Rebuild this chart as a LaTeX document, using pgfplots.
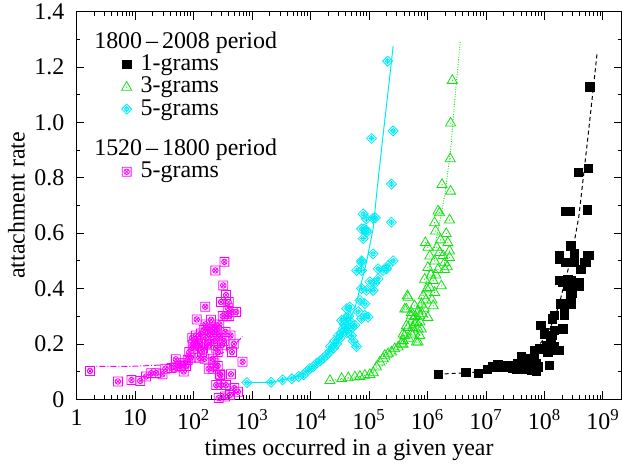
\documentclass[border=0pt]{standalone}
\usepackage{pgfplots}
\pgfplotsset{compat=1.18}
\usepackage{fontspec}
\setmainfont{Liberation Serif}
\definecolor{cmag}{RGB}{255,0,255}
\definecolor{ccyan}{RGB}{0,235,245}
\definecolor{cgreen}{RGB}{20,225,20}
\pgfdeclareplotmark{sqox}{%
 \pgfpathrectangle{\pgfpoint{-\pgfplotmarksize}{-\pgfplotmarksize}}{\pgfpoint{2\pgfplotmarksize}{2\pgfplotmarksize}}%
 \pgfpathcircle{\pgfpointorigin}{0.62\pgfplotmarksize}%
 \pgfpathmoveto{\pgfpoint{-0.44\pgfplotmarksize}{-0.44\pgfplotmarksize}}\pgfpathlineto{\pgfpoint{0.44\pgfplotmarksize}{0.44\pgfplotmarksize}}%
 \pgfpathmoveto{\pgfpoint{-0.44\pgfplotmarksize}{0.44\pgfplotmarksize}}\pgfpathlineto{\pgfpoint{0.44\pgfplotmarksize}{-0.44\pgfplotmarksize}}%
 \pgfusepathqstroke}
\pgfdeclareplotmark{diaplus}{%
 \pgfpathmoveto{\pgfpoint{0pt}{1.25\pgfplotmarksize}}\pgfpathlineto{\pgfpoint{1.25\pgfplotmarksize}{0pt}}%
 \pgfpathlineto{\pgfpoint{0pt}{-1.25\pgfplotmarksize}}\pgfpathlineto{\pgfpoint{-1.25\pgfplotmarksize}{0pt}}\pgfpathclose
 \pgfpathcircle{\pgfpointorigin}{0.5\pgfplotmarksize}%
 \pgfpathmoveto{\pgfpoint{-0.75\pgfplotmarksize}{0pt}}\pgfpathlineto{\pgfpoint{0.75\pgfplotmarksize}{0pt}}%
 \pgfpathmoveto{\pgfpoint{0pt}{-0.75\pgfplotmarksize}}\pgfpathlineto{\pgfpoint{0pt}{0.75\pgfplotmarksize}}%
 \pgfusepathqstroke}
\pgfdeclareplotmark{tridot}{%
 \pgfpathmoveto{\pgfpoint{0pt}{1.15\pgfplotmarksize}}\pgfpathlineto{\pgfpoint{1.1\pgfplotmarksize}{-0.75\pgfplotmarksize}}%
 \pgfpathlineto{\pgfpoint{-1.1\pgfplotmarksize}{-0.75\pgfplotmarksize}}\pgfpathclose\pgfusepathqstroke
 \pgfpathcircle{\pgfpoint{0pt}{-0.1\pgfplotmarksize}}{0.14\pgfplotmarksize}\pgfusepathqfill}
\begin{document}
\fontsize{24}{28}\selectfont
\begin{tikzpicture}
\begin{axis}[
 scale only axis, width=547pt, height=389pt,
 xmode=log, xmin=1, xmax=2.1e9, ymin=0, ymax=1.4,
 xtick={1,10,100,1000,10000,100000,1000000,10000000,100000000,1000000000},
 xticklabels={1,10,10\textsuperscript{2},10\textsuperscript{3},10\textsuperscript{4},10\textsuperscript{5},10\textsuperscript{6},10\textsuperscript{7},10\textsuperscript{8},10\textsuperscript{9}},
 ytick={0,0.2,0.4,0.6,0.8,1.0,1.2,1.4},
 yticklabels={0,0.2,0.4,0.6,0.8,1.0,1.2,1.4},
 minor ytick={0.1,0.3,0.5,0.7,0.9,1.1,1.3},
 major tick length=8pt, minor tick length=4pt,
 tick style={black, line width=0.6pt},
 axis line style={line width=0.8pt},
 yticklabel style={inner sep=3.5pt, xshift=-8.5pt},
 xticklabel style={inner sep=2pt, yshift=-8pt},
 xlabel={times occurred in a given year}, ylabel={attachment rate},
 xlabel style={yshift=1pt},
 ylabel style={yshift=-2pt},
 legend style={draw=none, fill=none, at={(0.076,0.949)}, anchor=north west, inner sep=0pt, row sep=3pt, nodes={inner sep=0pt}},
 legend cell align=left,
]
\addlegendimage{empty legend}\addlegendentry{\makebox[0pt][l]{\hspace*{-38pt}1800\,–\,2008 period}}
% 1-grams
\addplot[only marks, mark=square*, mark size=4.2pt, draw=black, fill=black] coordinates {
(1.52e6,0.09)(4.5e6,0.097)(7.5e6,0.094)(1.05e7,0.109)(1.32e7,0.118)(1.6e7,0.126)(1.95e7,0.118)
(2.37e7,0.122)(2.88e7,0.114)(3.3e7,0.109)(3.5e7,0.131)(4.0e7,0.154)(4.55e7,0.11)(4.6e7,0.141)
(4.87e7,0.136)(5.55e7,0.148)(5.9e7,0.106)(5.9e7,0.127)(6.7e7,0.122)(6.7e7,0.159)(6.7e7,0.178)
(7.2e7,0.103)(7.2e7,0.131)(7.7e7,0.118)(8.2e7,0.183)(8.7e7,0.184)(8.7e7,0.267)(1.0e8,0.243)
(1.0e8,0.237)(1.07e8,0.195)(1.14e8,0.171)(1.14e8,0.196)(1.22e8,0.123)(1.29e8,0.219)(1.38e8,0.291)
(1.38e8,0.231)(1.48e8,0.178)(1.48e8,0.25)(1.48e8,0.19)(1.48e8,0.303)(1.8e8,0.178)(1.8e8,0.519)
(1.8e8,0.429)(1.8e8,0.507)(1.91e8,0.345)(2.05e8,0.424)(2.05e8,0.255)(2.19e8,0.309)(2.19e8,0.303)
(2.34e8,0.495)(2.34e8,0.678)(2.5e8,0.41)(2.5e8,0.433)(2.75e8,0.678)(2.84e8,0.43)(2.84e8,0.555)
(2.84e8,0.381)(2.84e8,0.345)(3.0e8,0.383)(3.0e8,0.41)(3.24e8,0.513)(3.24e8,0.525)(3.24e8,0.495)
(3.8e8,0.819)(3.9e8,0.41)(3.9e8,0.421)(4.2e8,0.47)(4.8e8,0.495)(5.1e8,0.495)(5.4e8,0.684)
(5.5e8,0.519)(5.6e8,0.834)(5.8e8,0.519)(6.0e8,1.129)
};
\addlegendentry{\hspace*{9pt}1-grams}
% 3-grams
\addplot[only marks, mark=tridot, mark size=4.6pt, draw=cgreen, fill=cgreen, line width=0.8pt] coordinates {
(21600,0.069)(34200,0.076)(44400,0.079)(57700,0.082)(70200,0.084)(85300,0.088)(104000,0.091)
(119000,0.097)(135000,0.118)(154000,0.136)(175000,0.148)(187000,0.16)(213000,0.166)(243000,0.172)
(277000,0.184)(316000,0.19)(360000,0.202)(385000,0.214)(385000,0.2)(385000,0.237)(410000,0.232)
(410000,0.327)(438000,0.327)(438000,0.267)(455000,0.375)(468000,0.261)(468000,0.37)(533000,0.315)
(533000,0.303)(533000,0.237)(569000,0.291)(605000,0.339)(605000,0.273)(605000,0.244)(650000,0.279)
(650000,0.208)(694000,0.255)(694000,0.208)(740000,0.232)(740000,0.303)(790000,0.345)(790000,0.255)
(850000,0.375)(900000,0.435)(925000,0.567)(1.02e6,0.55)(1.02e6,0.477)(1.02e6,0.297)(1.1e6,0.519)
(1.1e6,0.405)(1.26e6,0.43)(1.26e6,0.339)(1.33e6,0.639)(1.33e6,0.501)(1.33e6,0.387)(1.38e6,0.609)
(1.52e6,0.47)(1.52e6,0.681)(1.62e6,0.675)(1.62e6,0.531)(1.68e6,0.577)(1.74e6,0.411)(1.78e6,0.777)
(1.97e6,0.494)(1.97e6,0.47)(2.24e6,0.567)(2.4e6,0.649)(2.4e6,0.537)(2.4e6,0.513)(2.5e6,0.753)
(2.46e6,0.87)(2.5e6,0.999)(2.67e6,1.153)
(480000,0.22)(560000,0.26)(620000,0.3)(700000,0.32)(750000,0.28)(820000,0.31)(880000,0.33)
(950000,0.36)(980000,0.40)(1.15e6,0.45)(1.2e6,0.36)(1.4e6,0.45)(1.45e6,0.55)(1.85e6,0.52)
(2.1e6,0.6)(2.2e6,0.48)
};
\addlegendentry{\hspace*{9pt}3-grams}
% 5-grams (1800-2008)
\addplot[only marks, mark=diaplus, mark size=4pt, draw=ccyan, line width=0.8pt] coordinates {
(822,0.06)(2130,0.061)(3340,0.07)(4800,0.074)(6280,0.082)(7600,0.088)(8700,0.10)(9800,0.111)
(11200,0.117)(12800,0.13)(14500,0.138)(16600,0.148)(19000,0.16)(21500,0.172)(24600,0.184)
(28100,0.2)(32000,0.22)(34100,0.238)(36600,0.255)(34100,0.285)(39000,0.291)(41700,0.327)
(47300,0.333)(44600,0.255)(50500,0.23)(54000,0.21)(61700,0.19)(57600,0.267)(65600,0.316)
(75000,0.291)(85300,0.303)(97000,0.297)(70400,0.357)(85300,0.345)(75000,0.40)(91000,0.393)
(104000,0.424)(118000,0.393)(126000,0.418)(144000,0.435)(61700,0.465)(75000,0.495)(75000,0.465)
(118000,0.525)(144000,0.471)(176000,0.465)(200000,0.471)(214000,0.483)(260000,0.50)(91000,0.603)
(80000,0.58)(80000,0.669)(91000,0.651)(83000,0.615)(118000,0.653)(243000,0.777)(243000,0.639)
(75000,0.50)(209000,1.221)(111000,0.942)(260000,0.969)(129000,0.655)(75000,0.615)(91000,0.61)
(22000,0.19)(26000,0.21)(30000,0.23)(38000,0.27)(42000,0.24)(45000,0.3)(48000,0.28)(52000,0.26)
};
\addlegendentry{\hspace*{9pt}5-grams}
\addlegendimage{empty legend}\addlegendentry{\makebox[0pt][l]{\rule{0pt}{34pt}\hspace*{-38pt}1520\,–\,1800 period}}
% 5-grams (1520-1800)
\addplot[only marks, mark=sqox, mark size=4.5pt, draw=cmag, line width=0.8pt] coordinates {
(1.7,0.102)(5.1,0.064)(8.7,0.069)(12.3,0.066)(15.5,0.082)(19,0.094)(23,0.094)(29.5,0.09)(33,0.11)
(42,0.113)(50,0.144)(50,0.115)(58,0.12)(68,0.10)(70,0.13)(80,0.142)(85,0.17)(95,0.222)(97,0.195)
(104,0.183)(114,0.288)(118,0.21)(126,0.15)(135,0.237)(145,0.183)(155,0.146)(159,0.334)(165,0.22)
(175,0.255)(182,0.11)(187,0.195)(200,0.287)(208,0.243)(214,0.146)(219,0.11)(237,0.465)(237,0.255)
(245,0.183)(245,0.051)(259,0.22)(270,0.004)(277,0.27)(283,0.09)(296,0.351)(300,0.051)(308,0.195)
(316,0.30)(324,0.411)(338,0.496)(347,0.01)(352,0.243)(360,0.376)(360,0.051)(386,0.33)(400,0.351)
(410,0.30)(420,0.015)(437,0.09)(455,0.17)(468,0.315)(500,0.04)(537,0.315)(575,0.027)(692,0.135)
(100,0.2)(110,0.23)(130,0.2)(150,0.25)(170,0.2)(190,0.23)(220,0.26)(230,0.21)(250,0.25)(260,0.17)
(290,0.23)(330,0.21)(370,0.3)(430,0.23)(490,0.2)(60,0.13)(75,0.12)(90,0.15)(140,0.17)(160,0.27)
(230,0.13)(260,0.12)(290,0.087)
};
\addlegendentry{\hspace*{9pt}5-grams}
% fit lines
\addplot[forget plot, black, line width=1pt, dash pattern=on 4pt off 3pt] coordinates {
(1.5e6,0.09)(5e6,0.096)(1e7,0.10)(3e7,0.125)(6e7,0.16)(1e8,0.22)(1.5e8,0.29)(1.9e8,0.363)(3e8,0.526)(3.9e8,0.66)(5.6e8,0.95)(8.0e8,1.25)};
\addplot[forget plot, cgreen, line width=0.9pt, dash pattern=on 1pt off 1.5pt] coordinates {
(21600,0.068)(50000,0.075)(100000,0.09)(200000,0.13)(400000,0.21)(700000,0.33)(1e6,0.44)(1.5e6,0.6)(2e6,0.74)(2.5e6,0.9)(3e6,1.10)(3.65e6,1.29)};
\addplot[forget plot, ccyan, line width=1pt] coordinates {
(822,0.06)(2130,0.061)(4800,0.076)(9300,0.105)(17800,0.154)(34100,0.231)(57600,0.327)(91000,0.495)(118000,0.615)(140000,0.768)(170000,0.93)(210000,1.10)(260000,1.275)};
\addplot[forget plot, cmag, line width=1pt, dash pattern=on 6pt off 2pt on 1pt off 2pt] coordinates {
(1.6,0.118)(10,0.119)(50,0.126)(100,0.133)(200,0.15)(300,0.165)(400,0.18)(500,0.197)(600,0.213)(690,0.226)};
\end{axis}
\end{tikzpicture}
\end{document}
